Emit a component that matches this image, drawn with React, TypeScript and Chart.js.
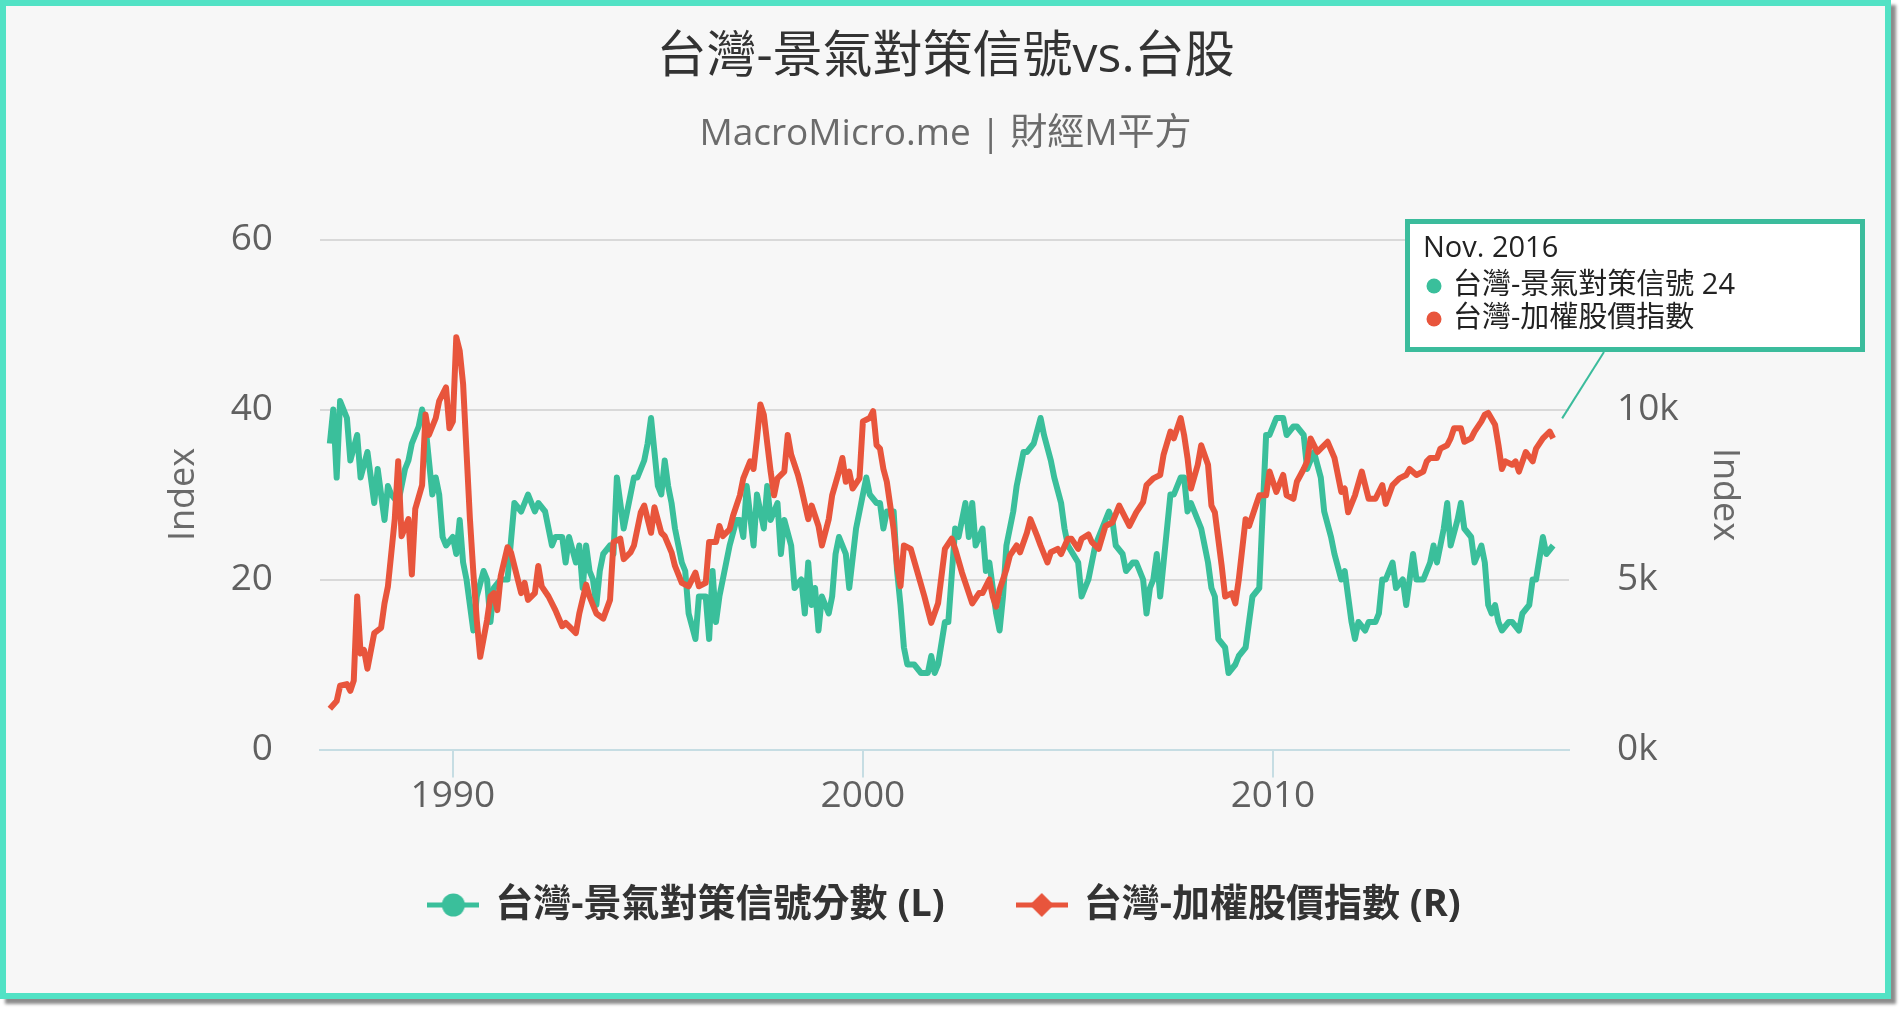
import Chart from "chart.js/auto";
import { useEffect, useRef } from "react";

// 台灣景氣對策信號 (左軸) — monthly readings, YYYY-MM
const signalDates = [
	"1987-01", "1987-02", "1987-03", "1987-04", "1987-06", "1987-07", "1987-09", "1987-10", "1987-12",
	"1988-02", "1988-03", "1988-05", "1988-06", "1988-07", "1988-09", "1988-11", "1988-12",
	"1989-01", "1989-03", "1989-04", "1989-05", "1989-06", "1989-07", "1989-08", "1989-09", "1989-10", "1989-11",
	"1990-01", "1990-02", "1990-03", "1990-04", "1990-05", "1990-07", "1990-08", "1990-10", "1990-11", "1990-12",
	"1991-01", "1991-03", "1991-05", "1991-07", "1991-09", "1991-11",
	"1992-01", "1992-02", "1992-04", "1992-06", "1992-07", "1992-09", "1992-10", "1992-11",
	"1993-01", "1993-02", "1993-03", "1993-04", "1993-05", "1993-06", "1993-07", "1993-08", "1993-09", "1993-11", "1993-12",
	"1994-01", "1994-03", "1994-05", "1994-06", "1994-07", "1994-09", "1994-10", "1994-11",
	"1995-01", "1995-02", "1995-03", "1995-04", "1995-05", "1995-06", "1995-08", "1995-09", "1995-10", "1995-12",
	"1996-01", "1996-03", "1996-04", "1996-05", "1996-06", "1996-07", "1996-09", "1996-10", "1996-12",
	"1997-01", "1997-02", "1997-03", "1997-05", "1997-06", "1997-08", "1997-09", "1997-10", "1997-12",
	"1998-01", "1998-02", "1998-04", "1998-05", "1998-07", "1998-08", "1998-09", "1998-10", "1998-11", "1998-12",
	"1999-01", "1999-03", "1999-04", "1999-05", "1999-06", "1999-08", "1999-09", "1999-11", "1999-12",
	"2000-02", "2000-03", "2000-05", "2000-06", "2000-07", "2000-08", "2000-10", "2000-11", "2000-12",
	"2001-01", "2001-02", "2001-04", "2001-06", "2001-08", "2001-09", "2001-10", "2001-11",
	"2002-01", "2002-02", "2002-04", "2002-05", "2002-07", "2002-08", "2002-09", "2002-10", "2002-12",
	"2003-01", "2003-02", "2003-04", "2003-05", "2003-06", "2003-07", "2003-09", "2003-10", "2003-12",
	"2004-01", "2004-03", "2004-05", "2004-06", "2004-08", "2004-09", "2004-11", "2004-12",
	"2005-01", "2005-04", "2005-05", "2005-07", "2005-08", "2005-09", "2005-11",
	"2006-01", "2006-02", "2006-03", "2006-05", "2006-06", "2006-08", "2006-09", "2006-11", "2006-12",
	"2007-01", "2007-02", "2007-03", "2007-04", "2007-05", "2007-07", "2007-08", "2007-10", "2007-11", "2007-12",
	"2008-01", "2008-03", "2008-04", "2008-06", "2008-07", "2008-08", "2008-09", "2008-11", "2008-12",
	"2009-02", "2009-03", "2009-05", "2009-06", "2009-07", "2009-09", "2009-11", "2009-12",
	"2010-02", "2010-04", "2010-05", "2010-07", "2010-08", "2010-10", "2010-11", "2010-12",
	"2011-01", "2011-03", "2011-04", "2011-06", "2011-07", "2011-09", "2011-10", "2011-11", "2011-12",
	"2012-01", "2012-02", "2012-04", "2012-05", "2012-07", "2012-08", "2012-09", "2012-10", "2012-12",
	"2013-01", "2013-03", "2013-04", "2013-06", "2013-07", "2013-09", "2013-10", "2013-11", "2013-12",
	"2014-01", "2014-03", "2014-04", "2014-05", "2014-07", "2014-08", "2014-09", "2014-11", "2014-12",
	"2015-02", "2015-03", "2015-04", "2015-05", "2015-06", "2015-07", "2015-08", "2015-10", "2015-11",
	"2016-01", "2016-02", "2016-04", "2016-05", "2016-06", "2016-08", "2016-09", "2016-11",
];
const signalValues = [
	36, 40, 32, 41, 39, 34, 37, 32, 35,
	29, 33, 27, 31, 30, 29, 33, 34,
	36, 38, 40, 38, 34, 30, 32, 30, 25, 24,
	25, 23, 27, 22, 20, 14, 18, 21, 20, 15,
	19, 20, 20, 29, 28, 30,
	28, 29, 28, 24, 25, 25, 22, 25,
	22, 24, 19, 24, 21, 20, 17, 21, 23, 24, 23,
	32, 26, 30, 32, 32, 34, 36, 39,
	31, 30, 34, 31, 29, 26, 22, 21, 16, 13,
	18, 18, 13, 21, 15, 18, 22, 24, 27,
	27, 25, 31, 24, 30, 26, 31, 27, 29,
	23, 27, 24, 19, 20, 16, 22, 17, 19, 14,
	18, 16, 18, 23, 25, 23, 19, 26, 28,
	32, 30, 29, 29, 26, 28, 28, 21, 17,
	12, 10, 10, 9, 9, 11, 9, 10,
	15, 15, 26, 25, 29, 25, 29, 24, 26,
	21, 22, 16, 14, 18, 24, 28, 31, 35,
	35, 36, 39, 37, 34, 32, 29, 26,
	24, 22, 18, 20, 22, 24, 26,
	28, 27, 24, 23, 21, 22, 22, 20, 16,
	19, 20, 23, 18, 22, 30, 30, 32, 32, 28,
	29, 27, 26, 22, 19, 18, 13, 12, 9,
	10, 11, 12, 15, 18, 19, 37, 37,
	39, 39, 37, 38, 38, 37, 33, 34,
	35, 32, 28, 25, 23, 20, 21, 18, 15,
	13, 15, 14, 15, 15, 16, 20, 20, 22,
	19, 20, 17, 23, 20, 20, 21, 22, 24,
	22, 26, 29, 24, 27, 29, 26, 25, 22,
	24, 22, 17, 16, 17, 15, 14, 15, 15,
	14, 16, 17, 20, 20, 25, 23, 24,
];

// 台灣加權股價指數 (右軸)
const taiexDates = [
	"1987-01", "1987-03", "1987-04", "1987-06", "1987-07", "1987-08", "1987-09", "1987-10", "1987-11", "1987-12",
	"1988-02", "1988-04", "1988-05", "1988-06", "1988-08", "1988-09", "1988-10", "1988-12",
	"1989-01", "1989-02", "1989-04", "1989-05", "1989-06", "1989-08", "1989-09", "1989-11", "1989-12",
	"1990-01", "1990-02", "1990-03", "1990-04", "1990-05", "1990-06", "1990-07", "1990-08", "1990-09", "1990-11", "1990-12",
	"1991-01", "1991-02", "1991-03", "1991-05", "1991-06", "1991-08", "1991-09", "1991-10", "1991-11",
	"1992-01", "1992-02", "1992-03", "1992-05", "1992-07", "1992-09", "1992-10", "1992-12",
	"1993-01", "1993-02", "1993-04", "1993-05", "1993-07", "1993-09", "1993-11", "1993-12",
	"1994-02", "1994-03", "1994-05", "1994-06", "1994-08", "1994-09", "1994-11", "1994-12",
	"1995-02", "1995-03", "1995-05", "1995-06", "1995-08", "1995-10", "1995-12",
	"1996-01", "1996-03", "1996-04", "1996-06", "1996-07", "1996-08", "1996-10", "1996-11",
	"1997-01", "1997-02", "1997-04", "1997-05", "1997-06", "1997-07", "1997-08", "1997-10", "1997-11", "1997-12",
	"1998-02", "1998-03", "1998-04", "1998-06", "1998-07", "1998-09", "1998-10", "1998-12",
	"1999-01", "1999-03", "1999-04", "1999-06", "1999-07", "1999-08", "1999-09", "1999-10", "1999-12",
	"2000-01", "2000-03", "2000-04", "2000-05", "2000-06", "2000-07", "2000-08", "2000-10", "2000-11", "2000-12",
	"2001-01", "2001-03", "2001-05", "2001-07", "2001-09", "2001-11",
	"2002-01", "2002-03", "2002-04", "2002-06", "2002-07", "2002-09", "2002-11", "2002-12",
	"2003-02", "2003-03", "2003-04", "2003-05", "2003-07", "2003-08", "2003-10", "2003-11",
	"2004-01", "2004-02", "2004-04", "2004-05", "2004-07", "2004-08", "2004-10", "2004-11",
	"2005-01", "2005-02", "2005-04", "2005-05", "2005-07", "2005-08", "2005-10", "2005-12",
	"2006-02", "2006-04", "2006-06", "2006-07", "2006-09", "2006-11", "2006-12",
	"2007-02", "2007-04", "2007-05", "2007-07", "2007-08", "2007-10", "2007-11", "2007-12",
	"2008-01", "2008-03", "2008-04", "2008-06", "2008-07", "2008-08", "2008-10", "2008-11",
	"2009-01", "2009-02", "2009-03", "2009-05", "2009-06", "2009-08", "2009-09", "2009-11", "2009-12",
	"2010-02", "2010-04", "2010-05", "2010-07", "2010-08", "2010-10", "2010-11", "2010-12",
	"2011-02", "2011-03", "2011-05", "2011-07", "2011-09", "2011-10", "2011-11",
	"2012-01", "2012-03", "2012-04", "2012-05", "2012-07", "2012-09", "2012-10", "2012-12",
	"2013-02", "2013-04", "2013-05", "2013-07", "2013-09", "2013-10", "2013-11",
	"2014-01", "2014-02", "2014-04", "2014-05", "2014-06", "2014-08", "2014-09", "2014-11", "2014-12",
	"2015-02", "2015-03", "2015-04", "2015-06", "2015-07", "2015-08", "2015-09", "2015-11", "2015-12",
	"2016-01", "2016-03", "2016-05", "2016-06", "2016-08", "2016-10", "2016-11",
];
const taiexValues = [
	1200, 1425, 1875, 1925, 1725, 2025, 4500, 2825, 2925, 2375,
	3425, 3575, 4300, 4800, 6775, 8475, 6275, 6775,
	5150, 7075, 7775, 9850, 9250, 9750, 10250, 10650, 9450,
	9650, 12125, 11725, 10750, 8750, 6775, 5200, 3800, 2725, 3800, 4500,
	4600, 4100, 5100, 5950, 5800, 5000, 4600, 4900, 4400,
	4600, 5400, 4800, 4500, 4100, 3625, 3725, 3525,
	3425, 4000, 4850, 4500, 4000, 3850, 4400, 6100,
	6200, 5600, 5800, 6000, 6975, 7175, 6375, 7125,
	6375, 6275, 5800, 5400, 4900, 4800, 5200,
	4800, 4900, 6100, 6100, 6575, 6275, 6475, 6875,
	7475, 7975, 8475, 8250, 9150, 10150, 9850, 8175, 7475, 7975,
	8175, 9250, 8675, 8075, 7675, 6775, 7175, 6575,
	6000, 6775, 7475, 8175, 8575, 7875, 8175, 7675, 7975,
	9650, 9750, 9950, 8950, 8850, 8250, 7875, 6475, 5400, 4800,
	6000, 5900, 5200, 4500, 3725, 4300,
	5900, 6200, 5900, 5200, 4900, 4300, 4600, 4600,
	5000, 4500, 4200, 4700, 5300, 5700, 6000, 5800,
	6375, 6775, 6275, 6000, 5500, 5800, 5900, 5750,
	6200, 6200, 5900, 6200, 6325, 6100, 5900, 6575,
	6675, 7175, 6775, 6575, 6975, 7275, 7775,
	7975, 8075, 8675, 9350, 9150, 9750, 9250, 8575,
	7675, 8375, 8950, 8375, 7175, 6975, 5400, 4500,
	4600, 4300, 5000, 6775, 6575, 7175, 7475, 7475, 8175,
	7575, 8075, 7475, 7375, 7875, 8250, 8475, 9150,
	8750, 8850, 9050, 8575, 7575, 7675, 6975,
	7475, 8175, 7775, 7375, 7375, 7775, 7225, 7775,
	7975, 8075, 8250, 8075, 8175, 8475, 8575,
	8575, 8850, 8950, 9150, 9450, 9450, 9050, 9150, 9350,
	9650, 9850, 9900, 9550, 8950, 8250, 8475, 8375, 8475,
	8175, 8750, 8475, 8850, 9150, 9350, 9150,
];

const yearTicks = [1990, 2000, 2010];
const leftTicks = [0, 20, 40, 60];
const rightTicks = [0, 5000, 10000, 15000];
const monthNames = ["Jan.", "Feb.", "Mar.", "Apr.", "May", "Jun.", "Jul.", "Aug.", "Sep.", "Oct.", "Nov.", "Dec."];

const GREEN = "#3abf9b";
const RED = "#e8553c";
const FRAME = "#52e2c5";
const CALLOUT = "#3bbc9c";
const FONT = "'Open Sans', 'Noto Sans CJK TC', sans-serif";

const toYear = (d: string) => {
	const [y, m] = d.split("-").map(Number);
	return y + (m - 1) / 12;
};

// line + marker symbol for the legend, wider than the legend box on purpose
const legendMarker = (color: string, shape: "circle" | "diamond") => {
	const c = document.createElement("canvas");
	c.width = 52;
	c.height = 26;
	const g = c.getContext("2d")!;
	g.strokeStyle = color;
	g.fillStyle = color;
	g.lineWidth = 5;
	g.beginPath();
	g.moveTo(0, 13);
	g.lineTo(52, 13);
	g.stroke();
	g.beginPath();
	if (shape === "circle") {
		g.arc(26, 13, 11.5, 0, Math.PI * 2);
	} else {
		g.moveTo(26, 1);
		g.lineTo(38, 13);
		g.lineTo(26, 25);
		g.lineTo(14, 13);
		g.closePath();
	}
	g.fill();
	return c;
};

const calloutPlugin = {
	id: "callout",
	afterDraw(chart: any) {
		const { ctx, scales } = chart;
		const lastDate = signalDates[signalDates.length - 1];
		const px = scales.x.getPixelForValue(toYear(lastDate));
		const py = scales.yR.getPixelForValue(taiexValues[taiexValues.length - 1]);
		const [yy, mm] = lastDate.split("-").map(Number);
		const left = 1399;
		const top = 213;
		const w = 460;
		const h = 133;
		ctx.save();
		ctx.strokeStyle = CALLOUT;
		ctx.lineWidth = 2;
		ctx.beginPath();
		ctx.moveTo(1598, top + h);
		ctx.lineTo(px + 9, py - 20);
		ctx.stroke();
		ctx.fillStyle = "#ffffff";
		ctx.fillRect(left, top, w, h);
		ctx.lineWidth = 5;
		ctx.strokeRect(left + 2.5, top + 2.5, w - 5, h - 5);
		ctx.textBaseline = "middle";
		ctx.textAlign = "left";
		ctx.font = `29px ${FONT}`;
		ctx.fillStyle = "#222";
		ctx.fillText(`${monthNames[mm - 1]} ${yy}`, left + 18, top + 30);
		ctx.fillText(`台灣-景氣對策信號 ${signalValues[signalValues.length - 1]}`, left + 48, top + 67);
		ctx.fillText("台灣-加權股價指數", left + 48, top + 100);
		ctx.fillStyle = GREEN;
		ctx.beginPath();
		ctx.arc(left + 29, top + 67, 7.5, 0, Math.PI * 2);
		ctx.fill();
		ctx.fillStyle = RED;
		ctx.beginPath();
		ctx.arc(left + 29, top + 100, 7.5, 0, Math.PI * 2);
		ctx.fill();
		ctx.restore();
	},
};

const SignalVsTaiex = () => {
	const chartRef = useRef<HTMLCanvasElement | null>(null);

	useEffect(() => {
		if (!chartRef.current) return;
		const ctx = chartRef.current.getContext("2d");
		if (!ctx) return;

		const tickFont = { family: FONT, size: 37 };
		const titleFont = { family: FONT, size: 36 };

		const myChart = new Chart(ctx, {
			type: "line",
			data: {
				datasets: [
					{
						label: "台灣-景氣對策信號分數 (L)",
						data: signalDates.map((d, i) => ({ x: toYear(d), y: signalValues[i] })),
						borderColor: GREEN,
						backgroundColor: GREEN,
						borderWidth: 6,
						pointRadius: 0,
						pointHoverRadius: 0,
						pointStyle: legendMarker(GREEN, "circle"),
						borderJoinStyle: "round",
						yAxisID: "yL",
						order: 1,
					},
					{
						label: "台灣-加權股價指數 (R)",
						data: taiexDates.map((d, i) => ({ x: toYear(d), y: taiexValues[i] })),
						borderColor: RED,
						backgroundColor: RED,
						borderWidth: 6,
						pointRadius: 0,
						pointHoverRadius: 0,
						pointStyle: legendMarker(RED, "diamond"),
						borderJoinStyle: "round",
						yAxisID: "yR",
						order: 0,
					},
				],
			},
			options: {
				responsive: false,
				animation: false,
				events: [],
				layout: { padding: { left: 0, right: 0, top: 0, bottom: 59 } },
				scales: {
					x: {
						type: "linear",
						min: 1986.76,
						max: 2017.22,
						afterBuildTicks: (scale: any) => {
							scale.ticks = yearTicks.map((v) => ({ value: v }));
						},
						afterFit: (scale: any) => {
							scale.height = 62.5;
						},
						grid: {
							drawOnChartArea: false,
							drawTicks: true,
							tickLength: 28,
							color: "#c6dde3",
							lineWidth: 2,
						},
						border: { display: true, color: "#c6dde3", width: 2 },
						ticks: {
							font: tickFont,
							color: "#606060",
							padding: -3.5,
							maxRotation: 0,
							autoSkip: false,
							callback: (v: any) => String(v),
						},
					},
					yL: {
						type: "linear",
						position: "left",
						min: 0,
						max: 60,
						afterBuildTicks: (scale: any) => {
							scale.ticks = leftTicks.map((v) => ({ value: v }));
						},
						afterFit: (scale: any) => {
							scale.width = 314;
						},
						grid: {
							drawTicks: false,
							lineWidth: 2,
							color: (c: any) => (c.tick && c.tick.value === 0 ? "rgba(0,0,0,0)" : "#d9d9d9"),
						},
						border: { display: false },
						ticks: { font: tickFont, color: "#606060", padding: 47 },
						title: {
							display: true,
							text: "Index",
							font: titleFont,
							color: "#6a6a6a",
							padding: { top: 156.4, bottom: 0 },
						},
					},
					yR: {
						type: "linear",
						position: "right",
						min: 0,
						max: 15000,
						afterBuildTicks: (scale: any) => {
							scale.ticks = rightTicks.map((v) => ({ value: v }));
						},
						afterFit: (scale: any) => {
							scale.width = 316;
						},
						grid: { drawOnChartArea: false, drawTicks: false },
						border: { display: false },
						ticks: {
							font: tickFont,
							color: "#606060",
							padding: 48,
							callback: (v: any) => `${Number(v) / 1000}k`,
						},
						title: {
							display: true,
							text: "Index",
							font: titleFont,
							color: "#6a6a6a",
							padding: { top: 139.4, bottom: 0 },
						},
					},
				},
				plugins: {
					title: {
						display: true,
						text: "台灣-景氣對策信號vs.台股",
						color: "#333333",
						font: { family: FONT, size: 50, weight: "normal" },
						padding: { top: 22, bottom: 0 },
					},
					subtitle: {
						display: true,
						text: "MacroMicro.me | 財經M平方",
						color: "#6b6b6b",
						font: { family: FONT, size: 37 },
						padding: { top: 23.8, bottom: 83.3 },
					},
					legend: {
						display: true,
						position: "bottom",
						labels: {
							usePointStyle: true,
							pointStyleWidth: 46,
							boxHeight: 26,
							padding: 74,
							color: "#333333",
							font: { family: FONT, size: 38, weight: "bold" },
							sort: (a: any, b: any) => a.datasetIndex - b.datasetIndex,
						},
					},
					tooltip: { enabled: false },
				},
			},
			plugins: [calloutPlugin],
		} as any);

		return () => {
			myChart.destroy();
		};
	}, []);

	return (
		<div
			style={{
				position: "absolute",
				left: 0,
				top: 0,
				width: 1879,
				height: 987,
				border: `6px solid ${FRAME}`,
				background: "#f7f7f7",
				boxShadow: "5px 5px 3px rgba(0,0,0,0.45)",
			}}
		>
			<canvas ref={chartRef} width={1879} height={987} style={{ display: "block" }} />
		</div>
	);
};

export default function App() {
	return <SignalVsTaiex />;
}
